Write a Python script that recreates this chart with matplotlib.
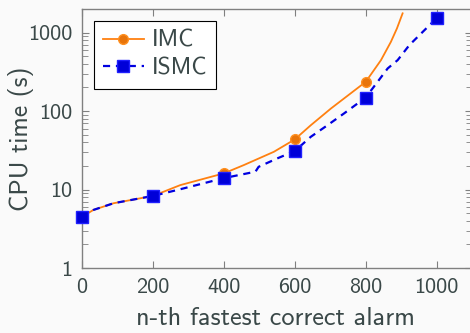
import numpy as np
import matplotlib
matplotlib.use("Agg")
import matplotlib.pyplot as plt

# IMC curve (orange, solid), markers every 200
imc_x = [0, 32, 89, 200, 277, 400, 456, 541, 600, 645, 702, 800, 843, 871, 888, 904]
imc_y = [4.5, 5.5, 6.7, 8.3, 11.4, 16.1, 20.5, 30.3, 43.6, 66, 108, 236, 446, 763, 1130, 1760]

# ISMC curve (blue, dashed)
ismc_x = [0, 32, 89, 200, 277, 400, 489, 498, 551, 600, 645, 692, 739, 800, 862, 890, 923, 1000]
ismc_y = [4.5, 5.5, 6.7, 8.3, 10.1, 14.0, 16.9, 19.5, 25, 31, 47, 66, 93.5, 149, 350, 446, 693, 1530]

mark_x = [0, 200, 400, 600, 800, 1000]

plt.rcParams['font.family'] = ['cmss10', 'DejaVu Sans']
plt.rcParams['axes.unicode_minus'] = False
txt = '#3a4848'
spine = '#808080'

fig = plt.figure(figsize=(4.7, 3.33), dpi=100, facecolor='#fafafa')
ax = fig.add_axes([0.1745, 0.195, 0.83, 0.778])
ax.set_facecolor('#fafafa')

imc_marks = [i for i, v in enumerate(imc_x) if v in mark_x]
ismc_marks = [i for i, v in enumerate(ismc_x) if v in mark_x]

ax.plot(imc_x, imc_y, color='#ff8010', lw=1.3, marker='o', markevery=imc_marks,
        ms=7, mfc='#e8740a', mec='#ff9020', label='IMC', clip_on=False, zorder=3)
ax.plot(ismc_x, ismc_y, color='#0000e0', lw=1.6, ls=(0, (3.2, 2.6)), marker='s',
        markevery=ismc_marks, ms=8, mfc='#0000d8', mec='#2020ff',
        label='ISMC', clip_on=False, zorder=4)

ax.set_yscale('log')
ax.set_xlim(0, 1100)
ax.set_ylim(1, 2000)
ax.set_xticks([0, 200, 400, 600, 800, 1000])
ax.set_xticklabels(['0', '200', '400', '600', '800', '1000'])
ax.set_yticks([1, 10, 100, 1000])
ax.set_yticklabels(['1', '10', '100', '1000'])

ax.tick_params(which='both', direction='in', top=True, right=True, color=spine,
               labelcolor=txt, labelsize=16)
ax.tick_params(which='major', length=5, width=0.8)
ax.tick_params(which='minor', length=4, width=0.6)
ax.tick_params(axis='x', pad=7)
ax.tick_params(axis='y', pad=7)
for s in ax.spines.values():
    s.set_color(spine)
    s.set_linewidth(1.0)

ax.set_xlabel('n-th fastest correct alarm', fontsize=18.8, color=txt)
ax.set_ylabel('CPU time (s)', fontsize=18.5, color=txt)
ax.xaxis.set_label_coords(0.495, -0.15)
ax.yaxis.set_label_coords(-0.122, 0.5)

leg = ax.legend(loc='upper left', fontsize=17, frameon=True, fancybox=False,
                edgecolor='black', facecolor='white', framealpha=1,
                handlelength=1.75, borderpad=0.38, labelspacing=0.25,
                borderaxespad=0.5, handletextpad=0.33)
leg.get_frame().set_linewidth(0.8)
for t in leg.get_texts():
    t.set_color(txt)

fig.savefig('out.png', dpi=100, facecolor=fig.get_facecolor())
